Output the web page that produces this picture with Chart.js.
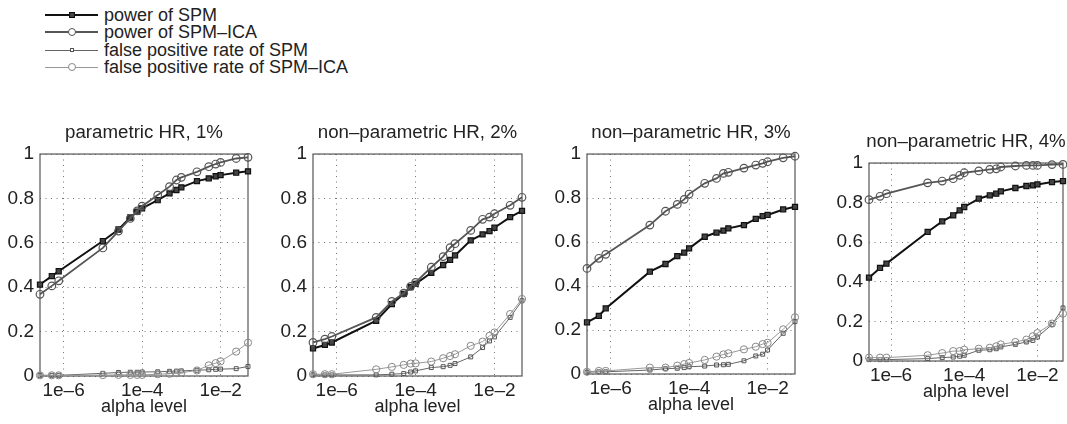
<!DOCTYPE html>
<html>
<head>
<meta charset="utf-8">
<script src="https://cdn.jsdelivr.net/npm/chart.js@4.4.1/dist/chart.umd.min.js"></script>
<style>
  html, body { margin: 0; padding: 0; background: #fff; overflow: hidden; width: 1067px; height: 424px; }
  body { position: relative; font-family: "Liberation Sans", Arial, Helvetica, sans-serif; }
  canvas { position: absolute; }
  .lg-line { position: absolute; }
  .lg-mark { position: absolute; box-sizing: border-box; }
  .lg-text { position: absolute; font-size: 18px; line-height: 22px; color: #222; white-space: nowrap; }
</style>
</head>
<body>
<script>
// alpha levels (x values, shared by all panels)
const alphaLevels = [2.5e-7, 5e-7, 7.5e-7, 1e-5, 2.5e-5, 5e-5, 7.5e-5, 1e-4, 2.5e-4,
                     5e-4, 7.5e-4, 1e-3, 2.5e-3, 5e-3, 7.5e-3, 1e-2, 2.5e-2, 5e-2];

const xTickValues = [1e-6, 1e-4, 1e-2];
const xTickLabels = ['1e\u20136', '1e\u20134', '1e\u20132'];
const yTickValues = [0, 0.2, 0.4, 0.6, 0.8, 1];
const yTickLabels = ['0', '0.2', '0.4', '0.6', '0.8', '1'];

const seriesNames = ['power of SPM', 'power of SPM\u2013ICA',
                     'false positive rate of SPM', 'false positive rate of SPM\u2013ICA'];
const panelTitles = ['parametric HR, 1%', 'non\u2013parametric HR, 2%',
                     'non\u2013parametric HR, 3%', 'non\u2013parametric HR, 4%'];

// panel 1
const powerSpm1 = [0.412, 0.45, 0.472, 0.608, 0.66, 0.714, 0.74, 0.755, 0.792, 0.823, 0.838, 0.85, 0.878, 0.89, 0.9, 0.905, 0.916, 0.922];
const powerIca1 = [0.368, 0.406, 0.429, 0.577, 0.653, 0.71, 0.744, 0.765, 0.815, 0.853, 0.883, 0.895, 0.92, 0.943, 0.955, 0.962, 0.98, 0.985];
const fprSpm1   = [0.003, 0.003, 0.003, 0.012, 0.016, 0.017, 0.017, 0.018, 0.019, 0.021, 0.022, 0.023, 0.026, 0.028, 0.03, 0.031, 0.033, 0.043];
const fprIca1   = [0.003, 0.003, 0.003, 0.004, 0.005, 0.005, 0.005, 0.005, 0.008, 0.01, 0.013, 0.015, 0.025, 0.048, 0.058, 0.066, 0.11, 0.15];
// panel 2
const powerSpm2 = [0.124, 0.14, 0.151, 0.249, 0.324, 0.37, 0.4, 0.415, 0.465, 0.5, 0.523, 0.543, 0.611, 0.638, 0.653, 0.668, 0.716, 0.744];
const powerIca2 = [0.151, 0.166, 0.178, 0.264, 0.336, 0.373, 0.404, 0.422, 0.49, 0.538, 0.578, 0.596, 0.656, 0.706, 0.716, 0.731, 0.769, 0.805];
const fprSpm2   = [0.005, 0.005, 0.005, 0.005, 0.008, 0.011, 0.018, 0.023, 0.038, 0.042, 0.048, 0.056, 0.086, 0.128, 0.158, 0.176, 0.264, 0.339];
const fprIca2   = [0.008, 0.008, 0.008, 0.03, 0.041, 0.05, 0.056, 0.057, 0.065, 0.08, 0.09, 0.098, 0.136, 0.155, 0.181, 0.196, 0.279, 0.347];
// panel 3
const powerSpm3 = [0.235, 0.264, 0.298, 0.465, 0.5, 0.536, 0.552, 0.571, 0.624, 0.643, 0.652, 0.662, 0.677, 0.705, 0.718, 0.723, 0.748, 0.76];
const powerIca3 = [0.48, 0.526, 0.544, 0.677, 0.74, 0.771, 0.794, 0.818, 0.867, 0.889, 0.912, 0.917, 0.936, 0.95, 0.958, 0.965, 0.983, 0.99];
const fprSpm3   = [0.008, 0.01, 0.01, 0.018, 0.024, 0.026, 0.029, 0.033, 0.036, 0.041, 0.042, 0.044, 0.06, 0.082, 0.09, 0.109, 0.185, 0.238];
const fprIca3   = [0.01, 0.014, 0.014, 0.029, 0.029, 0.038, 0.045, 0.05, 0.064, 0.079, 0.089, 0.094, 0.112, 0.124, 0.136, 0.142, 0.203, 0.258];
// panel 4
const powerSpm4 = [0.421, 0.47, 0.492, 0.652, 0.705, 0.736, 0.761, 0.778, 0.82, 0.837, 0.845, 0.857, 0.874, 0.884, 0.887, 0.892, 0.904, 0.909];
const powerIca4 = [0.815, 0.832, 0.845, 0.9, 0.909, 0.921, 0.938, 0.951, 0.96, 0.968, 0.971, 0.98, 0.985, 0.988, 0.988, 0.988, 0.992, 0.993];
const fprSpm4   = [0.007, 0.007, 0.007, 0.012, 0.017, 0.02, 0.024, 0.029, 0.054, 0.057, 0.062, 0.071, 0.084, 0.096, 0.104, 0.121, 0.184, 0.268];
const fprIca4   = [0.017, 0.017, 0.017, 0.029, 0.04, 0.05, 0.05, 0.057, 0.062, 0.067, 0.074, 0.084, 0.096, 0.108, 0.125, 0.141, 0.189, 0.239];

const FONT = '"Liberation Sans", Arial, Helvetica, sans-serif';

// line / marker look of the 4 series
const styles = [
  { line: '#111', width: 2,   shape: 'rect',   r: 3.6, fill: '#444',        edge: '#111', ew: 1.2 },
  { line: '#555', width: 1.8, shape: 'circle', r: 3.8, fill: 'transparent', edge: '#555', ew: 1.2 },
  { line: '#666', width: 1,   shape: 'rect',   r: 2.8, fill: 'transparent', edge: '#555', ew: 1 },
  { line: '#999', width: 1,   shape: 'circle', r: 3.6, fill: 'transparent', edge: '#888', ew: 1 }
];

// plot boxes in page pixels
const panels = [
  { l: 40,  t: 154, r: 248,  b: 376, series: [powerSpm1, powerIca1, fprSpm1, fprIca1] },
  { l: 313, t: 154, r: 522,  b: 376, series: [powerSpm2, powerIca2, fprSpm2, fprIca2] },
  { l: 587, t: 154, r: 795,  b: 374, series: [powerSpm3, powerIca3, fprSpm3, fprIca3] },
  { l: 869, t: 163, r: 1063, b: 361, series: [powerSpm4, powerIca4, fprSpm4, fprIca4] }
];

const framePlugin = {
  id: 'frame',
  beforeDatasetsDraw(chart) {
    const { ctx, chartArea: a } = chart;
    ctx.save();
    ctx.strokeStyle = '#555';
    ctx.lineWidth = 1.2;
    ctx.strokeRect(a.left, a.top, a.right - a.left, a.bottom - a.top);
    ctx.restore();
  }
};

function makePanel(p, idx) {
  const cv = document.createElement('canvas');
  cv.width = p.r - p.l + 88;
  cv.height = p.b - p.t + 38 + 48;
  cv.style.left = (p.l - 44) + 'px';
  cv.style.top = (p.t - 38) + 'px';
  document.body.appendChild(cv);

  const datasets = p.series.map((vals, i) => {
    const s = styles[i];
    return {
      label: seriesNames[i],
      data: alphaLevels.map((a, k) => ({ x: a, y: vals[k] })),
      borderColor: s.line,
      borderWidth: s.width,
      pointStyle: s.shape,
      pointRadius: s.r,
      pointBackgroundColor: s.fill,
      pointBorderColor: s.edge,
      pointBorderWidth: s.ew,
      fill: false,
      tension: 0,
      clip: false
    };
  }).reverse();

  const gridOpts = { color: 'rgba(70,70,70,0.75)', lineWidth: 1, drawTicks: false };
  const tickFont = { size: 19, family: FONT };

  new Chart(cv, {
    type: 'line',
    data: { datasets: datasets },
    plugins: [framePlugin],
    options: {
      responsive: false,
      animation: false,
      devicePixelRatio: 1,
      layout: { padding: { left: 4, right: 4, top: 0, bottom: 0 } },
      plugins: {
        legend: { display: false },
        tooltip: { enabled: false },
        title: {
          display: true, text: panelTitles[idx], color: '#222',
          font: { size: 18.7, weight: 'normal', family: FONT },
          padding: { top: 5.6, bottom: 10 }
        }
      },
      scales: {
        x: {
          type: 'logarithmic', min: 2.5e-7, max: 5e-2,
          afterBuildTicks: s => { s.ticks = xTickValues.map(v => ({ value: v })); },
          afterFit: s => { s.height = 48; },
          ticks: { callback: (v, i) => xTickLabels[i], color: '#222', font: tickFont, padding: 3.5, maxRotation: 0, autoSkip: false },
          grid: gridOpts,
          border: { display: false, dash: [1, 4.5] },
          title: { display: true, text: 'alpha level', color: '#222', font: { size: 18, family: FONT }, padding: { top: 0, bottom: 6 } }
        },
        y: {
          min: 0, max: 1,
          afterBuildTicks: s => { s.ticks = yTickValues.map(v => ({ value: v })); },
          afterFit: s => { s.width = 40; },
          ticks: { callback: (v, i) => yTickLabels[i], color: '#222', font: tickFont, padding: 6 },
          grid: gridOpts,
          border: { display: false, dash: [1, 4.5] }
        },
        // empty right axis so the title centres over the plot box
        y2: {
          position: 'right', min: 0, max: 1,
          afterFit: s => { s.width = 40; },
          ticks: { display: false },
          grid: { display: false },
          border: { display: false }
        }
      }
    }
  });
}

panels.forEach(makePanel);

// legend (top left)
const legendRowsY = [15, 32, 50, 67];
seriesNames.forEach((name, i) => {
  const s = styles[i];
  const cy = legendRowsY[i];
  const ln = document.createElement('div');
  ln.className = 'lg-line';
  ln.style.left = '45px'; ln.style.width = '53px';
  ln.style.top = (cy - s.width / 2) + 'px'; ln.style.height = s.width + 'px';
  ln.style.background = s.line;
  document.body.appendChild(ln);

  const mk = document.createElement('div');
  mk.className = 'lg-mark';
  const size = s.shape === 'rect' ? s.r * 1.414 + s.ew : s.r * 2 + s.ew;
  mk.style.width = size + 'px'; mk.style.height = size + 'px';
  mk.style.left = (72 - size / 2) + 'px'; mk.style.top = (cy - size / 2) + 'px';
  mk.style.border = s.ew + 'px solid ' + s.edge;
  mk.style.background = s.fill === 'transparent' ? '#fff' : s.fill;
  if (s.shape === 'circle') mk.style.borderRadius = '50%';
  document.body.appendChild(mk);

  const tx = document.createElement('div');
  tx.className = 'lg-text';
  tx.style.left = '104px'; tx.style.top = (cy - 11) + 'px';
  tx.textContent = name;
  document.body.appendChild(tx);
});
</script>
</body>
</html>
